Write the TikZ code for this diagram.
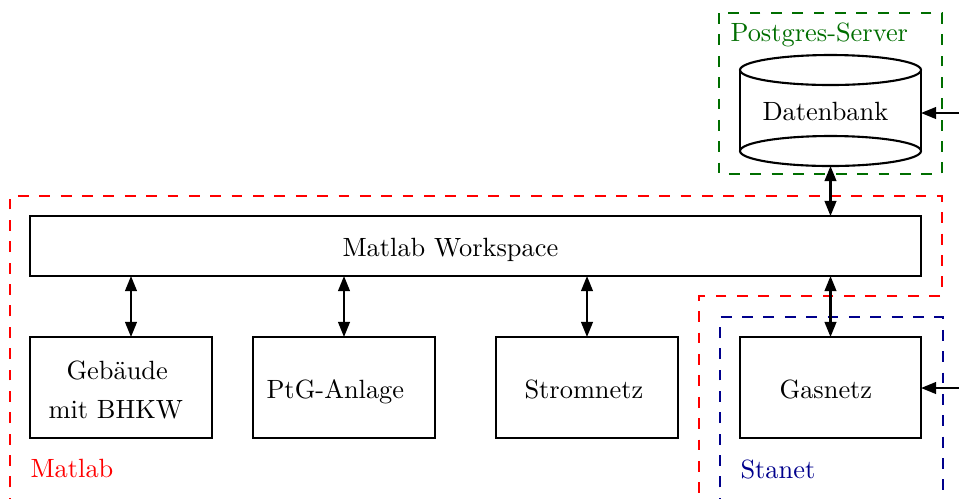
\documentclass[tikz,border=0pt]{standalone}
\usetikzlibrary{arrows.meta}
\definecolor{pgreen}{RGB}{0,110,0}
\definecolor{sblue}{RGB}{0,0,140}
\begin{document}
\def\pxu{0.379pt}
\begin{tikzpicture}[x=0.379pt,y=-0.379pt,
  box/.style={draw, thick, inner sep=0pt, outer sep=0pt},
  txt/.style={inner sep=0pt, anchor=base west},
  frame/.style={thick, dash pattern=on 4.1pt off 4pt},
  dbl/.style={thick, {Triangle[length=5.7pt,width=4.4pt]}-{Triangle[length=5.7pt,width=4.4pt]}},
  sgl/.style={thick, -{Triangle[length=5.7pt,width=4.4pt]}}]
\useasboundingbox (0,0) rectangle (959,498);

% frames
\draw[frame, red] (10,530) -- (10,196) -- (942,196) -- (942,296) -- (699,296) -- (699,530);
\draw[frame, sblue] (720,530) -- (720,317) -- (943,317) -- (943,530);
\draw[frame, pgreen] (719,13) rectangle (942,174);

% boxes
\node[box, minimum width=891*\pxu, minimum height=60*\pxu] (ws) at (475.5,246) {};
\node[box, minimum width=182*\pxu, minimum height=101*\pxu] (geb) at (121,387.5) {};
\node[box, minimum width=182*\pxu, minimum height=101*\pxu] (ptg) at (344,387.5) {};
\node[box, minimum width=182*\pxu, minimum height=101*\pxu] (strom) at (587,387.5) {};
\node[box, minimum width=181*\pxu, minimum height=101*\pxu] (gas) at (830.5,387.5) {};
\node[inner sep=0pt, outer sep=0pt, minimum width=181*\pxu, minimum height=111*\pxu] (db) at (830.5,110.5) {};

% cylinder
\draw[thick] (830.5,70) ellipse [x radius=90.5, y radius=15];
\draw[thick] (830.5,151) ellipse [x radius=90.5, y radius=15];
\draw[thick] (740,70) -- (740,151);
\draw[thick] (921,70) -- (921,151);

% texts
\node[txt] (tws) at (342,256) {Matlab Workspace};
\node[txt] (tgeb1) at (66,379) {Gebäude};
\node[txt] (tgeb2) at (48,418) {mit BHKW};
\node[txt] (tptg) at (266,398) {PtG-Anlage};
\node[txt] (tstrom) at (524,398) {Stromnetz};
\node[txt] (tgas) at (779,398) {Gasnetz};
\node[txt] (tdb) at (762,120) {Datenbank};
\node[txt, text=red] (lmat) at (30,477) {Matlab};
\node[txt, text=sblue] (lsta) at (740,478) {Stanet};
\node[txt, text=pgreen] (lpg) at (730,41) {Postgres-Server};

% connectors
\draw[dbl] (db.south) -- (db.south |- ws.north);
\draw[dbl] ([xshift=10*\pxu]geb.north) -- ([xshift=10*\pxu]geb.north |- ws.south);
\draw[dbl] (ptg.north) -- (ptg.north |- ws.south);
\draw[dbl] (strom.north) -- (strom.north |- ws.south);
\draw[dbl] (gas.north) -- (gas.north |- ws.south);
\coordinate (dbin) at (985,113);
\coordinate (gasin) at (985,388);
\draw[sgl] (dbin) -- (dbin -| db.east);
\draw[sgl] (gasin) -- (gasin -| gas.east);
\end{tikzpicture}
\end{document}
